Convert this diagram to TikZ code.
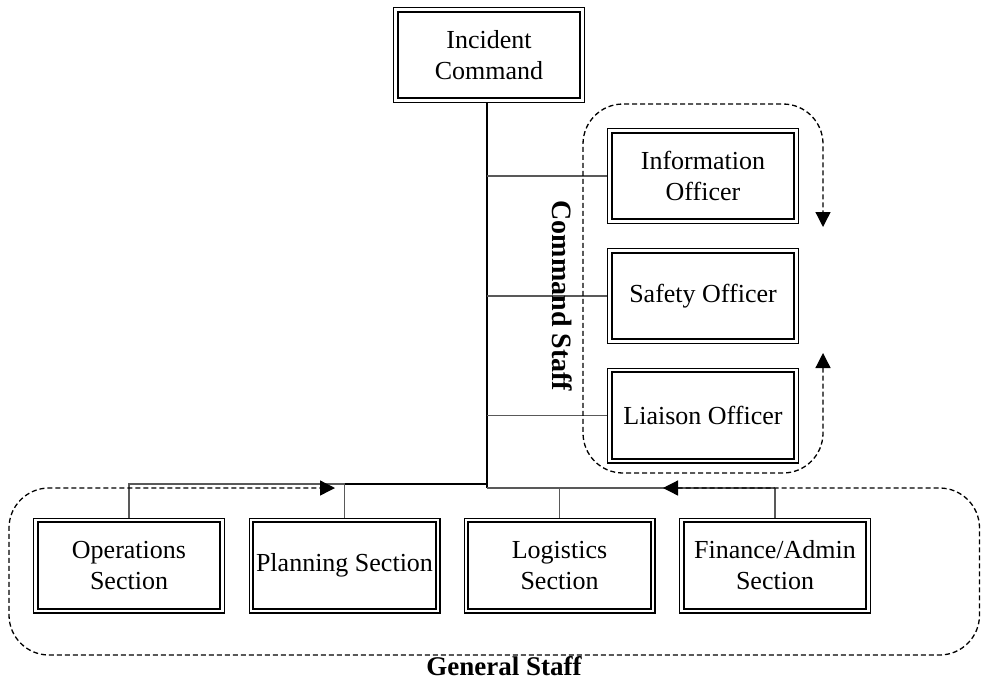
\documentclass[tikz,border=0pt]{standalone}
\usepackage{fontspec}
\setmainfont{Liberation Serif}
\usetikzlibrary{arrows.meta}
\begin{document}
\begin{tikzpicture}[x=1pt,y=-1pt,
  box/.style={draw, line width=1.3pt, minimum width=190.7pt, minimum height=94.7pt, inner sep=0pt, align=center, font=\fontsize{26}{31}\selectfont,
    path picture={\draw[line width=2pt] ([shift={(3.9pt,-3.9pt)}]path picture bounding box.north west) rectangle ([shift={(-3.9pt,3.9pt)}]path picture bounding box.south east);}},
  trunk/.style={line width=2pt},
  branch/.style={line width=1.1pt, draw=black!65},
  staffloop/.style={dash pattern=on 5pt off 3pt, line width=1.3pt, rounded corners=40pt, {Triangle[length=15pt,width=15pt]}-{Triangle[length=15pt,width=15pt]}},
  lab/.style={font=\bfseries\fontsize{28}{33}\selectfont, inner sep=0pt}]
\clip (0,0) rectangle (981,681);
% nodes
\node[box] (IC) at (489,55) {Incident\\Command};
\node[box] (info) at (703,176) {Information\\Officer};
\node[box] (safety) at (703,296) {Safety Officer};
\node[box] (liaison) at (703,415.5) {Liaison Officer};
\node[box] (ops) at (129,565.5) {Operations\\Section};
\node[box] (plan) at (344.5,565.5) {Planning Section};
\node[box] (log) at (559.5,565.5) {Logistics\\Section};
\node[box] (fin) at (775,565.5) {Finance/Admin\\Section};
% junctions
\coordinate (bus) at (487,488);
\coordinate (busL) at (487,484);
% trunk and buses
\draw[trunk] (IC.south -| bus) -- (bus);
\draw[trunk] (busL) -- (plan.north |- busL);
\draw[branch] (bus) -- (fin.north |- bus);
% branches
\draw[branch] (info.west) -- (info.west -| bus);
\draw[branch] (safety.west) -- (safety.west -| bus);
\draw[branch] (liaison.west) -- (liaison.west -| bus);
\draw[branch] (ops.north) -- (ops.north |- busL) -- (plan.north |- busL);
\draw[branch] (plan.north) -- (plan.north |- busL);
\draw[branch] (log.north) -- (log.north |- bus);
\draw[branch] (fin.north) -- (fin.north |- bus);
% dashed groups
\coordinate (csA) at (823,353);
\coordinate (csB) at (823,227);
\draw[staffloop] (csA) |- (583,473) |- (823,104) -- (csB);
\coordinate (gsA) at (663,488);
\coordinate (gsB) at (335,488);
\draw[staffloop] (gsA) -| (979.5,655) -| (9,488) -- (gsB);
% labels
\node[lab, rotate=-90] (cslab) at (562,296) {Command Staff};
\node[lab, anchor=base, font=\bfseries\fontsize{27}{32}\selectfont] (gslab) at (504,675) {General Staff};
\end{tikzpicture}
\end{document}
